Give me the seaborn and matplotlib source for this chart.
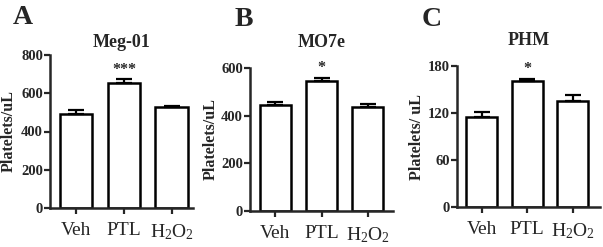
import matplotlib
matplotlib.use("Agg")
import matplotlib.pyplot as plt
import numpy as np
import pandas as pd
import seaborn as sns

sns.set_style("ticks")
plt.rcParams["font.family"] = ["Liberation Serif", "DejaVu Serif"]
plt.rcParams["mathtext.fontset"] = "custom"
plt.rcParams["mathtext.rm"] = "Liberation Serif"
plt.rcParams["mathtext.it"] = "Liberation Serif:italic"
plt.rcParams["mathtext.bf"] = "Liberation Serif:bold"

treatments = ["Veh", "PTL", r"H$\mathregular{_2}$O$\mathregular{_2}$"]

meg01_mean = [490, 655, 526]
meg01_sem = [22, 18, 5]
mo7e_mean = [445, 547, 438]
mo7e_sem = [14, 12, 10]
phm_mean = [115, 161, 135.5]
phm_sem = [6, 3, 7]

significance = [["", "***", ""], ["", "*", ""], ["", "*", ""]]
panel_letters = ["A", "B", "C"]
titles = ["Meg-01", "MO7e", "PHM"]
ylabels = ["Platelets/uL", "Platelets/uL", "Platelets/ uL"]
yticks = [np.arange(0, 801, 200), np.arange(0, 601, 200), np.arange(0, 181, 60)]

W, H = 603, 247
fig = plt.figure(figsize=(W / 100, H / 100), dpi=100)


def px_axes(left, right, top, bottom):
    return fig.add_axes([left / W, 1 - bottom / H, (right - left) / W, (bottom - top) / H])


axes = [
    px_axes(50, 193, 55, 208),
    px_axes(250, 393, 68, 211),
    px_axes(457, 600, 66, 207),
]
xlims = [(-0.55, 2.45), (-0.55, 2.55), (-0.54, 2.6)]
title_pads = [6, 15, 15]
ylabel_x = [9, 211, 417]
letter_pos = [(23, 17), (244, 19), (432, 19)]

data = [(meg01_mean, meg01_sem), (mo7e_mean, mo7e_sem), (phm_mean, phm_sem)]

for i, ax in enumerate(axes):
    means, sems = data[i]
    df = pd.DataFrame({"treatment": treatments, "count": means})
    sns.barplot(
        data=df, x="treatment", y="count", ax=ax, color="white",
        edgecolor="black", linewidth=1.8, width=0.68, errorbar=None,
    )
    ax.errorbar(
        range(len(means)), means, yerr=[np.zeros(len(sems)), sems], fmt="none",
        ecolor="black", elinewidth=1.6, capsize=6, capthick=1.6, zorder=1,
    )
    for j, mark in enumerate(significance[i]):
        if mark:
            ax.annotate(mark, (j, means[j] + sems[j]), xytext=(0, 1),
                        textcoords="offset points", ha="center", va="bottom",
                        fontsize=11.5, fontweight="bold")

    ax.set_xlim(*xlims[i])
    ax.set_ylim(0, yticks[i][-1])
    ax.set_yticks(yticks[i])
    ax.set_yticklabels([str(v) for v in yticks[i]], fontweight="bold", fontsize=10.5)
    ax.tick_params(axis="x", labelsize=14, length=4, width=1.6, pad=6)
    ax.tick_params(axis="y", length=4, width=1.6, pad=1)
    ax.set_xlabel("")
    ax.set_ylabel("")
    for side in ["left", "bottom"]:
        ax.spines[side].set_linewidth(1.8)
    sns.despine(ax=ax)

    ax.set_title(titles[i], fontsize=13, fontweight="bold", pad=title_pads[i])
    pos = ax.get_position()
    fig.text(ylabel_x[i] / W, (pos.y0 + pos.y1) / 2, ylabels[i], rotation=90,
             ha="center", va="center", fontsize=11.5, fontweight="bold")
    fig.text(letter_pos[i][0] / W, 1 - letter_pos[i][1] / H, panel_letters[i],
             ha="center", va="center", fontsize=20, fontweight="bold")

fig.savefig("out.png", dpi=100)
